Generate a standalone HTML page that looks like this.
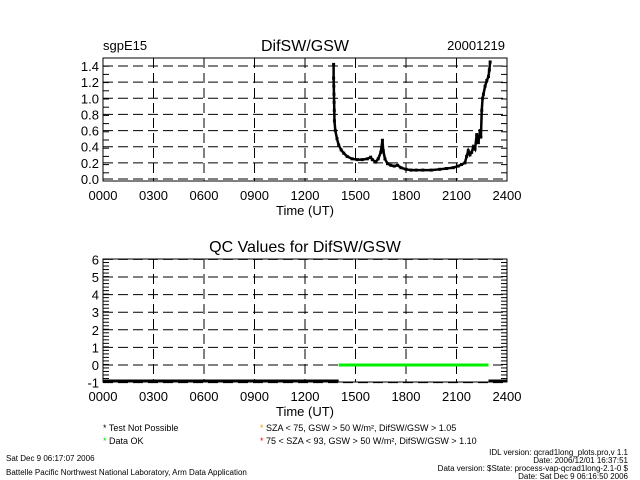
<!DOCTYPE html>
<html><head><meta charset="utf-8"><style>
body{margin:0;background:#fff}
svg{display:block;font-family:"Liberation Sans",sans-serif}
</style></head><body>
<svg id="c" width="640" height="480" viewBox="0 0 640 480">
<rect width="640" height="480" fill="#fff"/>
<text x="103" y="50" font-size="13">sgpE15</text>
<text x="305" y="51" font-size="16" text-anchor="middle">DifSW/GSW</text>
<text x="505" y="50" font-size="13" text-anchor="end">20001219</text>
<text x="305" y="252" font-size="16" text-anchor="middle">QC Values for DifSW/GSW</text>
<g id="top"></g>
<g id="bot"></g>
<g font-size="9">
<text x="103" y="431"><tspan>* </tspan>Test Not Possible</text>
<text x="103" y="444"><tspan fill="#00e000">* </tspan>Data OK</text>
<text x="260" y="431"><tspan fill="#ff9900">* </tspan>SZA &lt; 75, GSW &gt; 50 W/m², DifSW/GSW &gt; 1.05</text>
<text x="260" y="444"><tspan fill="#ff0000">* </tspan>75 &lt; SZA &lt; 93, GSW &gt; 50 W/m², DifSW/GSW &gt; 1.10</text>
</g>
<g font-size="8">
<text x="6" y="461">Sat Dec  9 06:17:07 2006</text>
<text x="6" y="475">Battelle Pacific Northwest National Laboratory, Arm Data Application</text>
<text x="628" y="455" text-anchor="end">IDL version: qcrad1long_plots.pro,v 1.1</text>
<text x="628" y="463" text-anchor="end">Date: 2006/12/01 16:37:51</text>
<text x="628" y="471" text-anchor="end">Data version: $State: process-vap-qcrad1long-2.1-0 $</text>
<text x="628" y="479" text-anchor="end">Date: Sat Dec  9 06:16:50 2006</text>
</g>
</svg>
<script>
const xTickLabels=["0000","0300","0600","0900","1200","1500","1800","2100","2400"];
const topYTicks=[0,0.2,0.4,0.6,0.8,1.0,1.2,1.4];
const botYTicks=[-1,0,1,2,3,4,5,6];
const ratioHours=[13.7,13.7,13.71,13.72,13.73,13.74,13.75,13.8,13.9,14.0,14.15,14.3,14.5,14.8,15.1,15.4,15.7,15.9,16.0,16.2,16.35,16.5,16.6,16.65,16.75,16.9,17.1,17.3,17.5,17.7,18.0,18.3,18.6,19.0,19.5,20.0,20.4,20.8,21.1,21.3,21.5,21.6,21.7,21.8,21.9,22.0,22.1,22.2,22.3,22.4,22.45,22.5,22.55,22.6,22.7,22.8,22.9,22.95,23.0];
const ratioValues=[1.42,1.25,1.15,1.05,0.95,0.85,0.72,0.6,0.5,0.42,0.36,0.32,0.28,0.25,0.24,0.24,0.25,0.27,0.24,0.21,0.25,0.33,0.48,0.35,0.25,0.19,0.17,0.16,0.17,0.14,0.12,0.11,0.11,0.11,0.11,0.12,0.13,0.14,0.16,0.18,0.2,0.28,0.35,0.3,0.33,0.4,0.37,0.55,0.45,0.6,0.52,0.85,1.0,1.05,1.15,1.22,1.27,1.35,1.45];
const qcSegments=[{start:0,end:14.0,value:-1,color:"#000"},{start:14.0,end:22.9,value:0,color:"#00ee00"},{start:22.9,end:24,value:-1,color:"#000"}];
const NS="http://www.w3.org/2000/svg";
const L=103,R=507;
function xs(h){return L+(R-L)*h/24;}
function mk(p,t,a){const e=document.createElementNS(NS,t);for(const k in a)e.setAttribute(k,a[k]);p.appendChild(e);return e;}
function axes(g,top,bot,ys,yTicks,dec,dense){
  mk(g,"rect",{x:L,y:top,width:R-L,height:bot-top,fill:"none",stroke:"#000","stroke-width":1});
  yTicks.forEach(v=>{const y=ys(v);
    const ln=mk(g,"line",{x1:L,x2:R,y1:y,y2:y,stroke:"#000","stroke-dasharray":"10,5"});
    
    
    const t=mk(g,"text",{x:L-4,y:y+5,"font-size":13,"text-anchor":"end"});
    t.textContent=dec?v.toFixed(1):String(v);
    
    
  });
  xTickLabels.forEach((lab,i)=>{const x=xs(i*3);
    const ln=mk(g,"line",{x1:x,x2:x,y1:top,y2:bot,stroke:"#000","stroke-dasharray":"10,5"});
    
    
    const t=mk(g,"text",{x:x,y:bot+19,"font-size":13,"text-anchor":"middle"});
    t.textContent=lab;
    
    
  });
  const n=dense?35:15;
  for(let i=0;i<=n;i++){const y=top+(bot-top)*i/n;
    mk(g,"line",{x1:L,x2:L+6,y1:y,y2:y,stroke:"#000"});mk(g,"line",{x1:R-6,x2:R,y1:y,y2:y,stroke:"#000"});}
  const xt=mk(g,"text",{x:(L+R)/2,y:bot+34,"font-size":13,"text-anchor":"middle"});
  xt.textContent="Time (UT)";
  
  
}
const gt=document.getElementById("top");
const ty=v=>179-(179-66)*v/1.4;
axes(gt,58,181,ty,topYTicks,true,false);
let pts=ratioHours.map((h,i)=>xs(h)+","+ty(ratioValues[i])).join(" ");
const pl=mk(gt,"polyline",{points:pts,fill:"none",stroke:"#000","stroke-width":2.5});


ratioHours.forEach((h,i)=>{const d=mk(gt,"rect",{x:xs(h)-1.5,y:ty(ratioValues[i])-1.5,width:3,height:3,fill:"#000"});
  
  });
const gb=document.getElementById("bot");
const by=v=>365-(365-277)*v/5;
axes(gb,259,382,by,botYTicks,false,true);
qcSegments.forEach(s=>{const ln=mk(gb,"line",{x1:xs(s.start),x2:xs(s.end),y1:Math.min(by(s.value),381),y2:Math.min(by(s.value),381),stroke:s.color,"stroke-width":3});
  
  });
</script>
</body></html>
